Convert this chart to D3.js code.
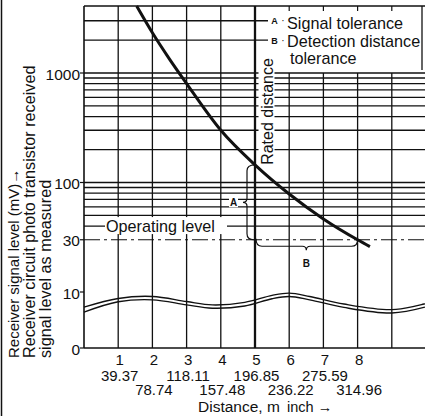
<!DOCTYPE html>
<html><head><meta charset="utf-8">
<script src="https://cdn.jsdelivr.net/npm/d3@7"></script>
<style>
body{margin:0;background:#fff}
svg{display:block}
text{font-family:"Liberation Sans",Arial,Helvetica,sans-serif;fill:#111}
</style>
</head><body>
<svg id="chart" width="425" height="416"></svg>
<script>
// ---------- data ----------
const meterTicks = [1, 2, 3, 4, 5, 6, 7, 8];
const inchMetersOdd = [1, 3, 5, 7];
const inchLabelsOdd = ["39.37", "118.11", "196.85", "275.59"];
const inchMetersEven = [2, 4, 6, 8];
const inchLabelsEven = ["78.74", "157.48", "236.22", "314.96"];
const yTickValues = [0, 10, 30, 100, 1000];
const logGridValues = [40, 50, 60, 70, 80, 90, 100, 200, 300, 400, 500, 600, 700, 800, 900, 1000];
const leaderGridValues = [3000, 2000];
const fullVerticals = [1, 2, 3, 4];
const partialVerticals = [6, 7, 8, 9];
const ratedDistance = 5;
const operatingLevel = 30;
const detectionLimit = 8;

const curveDistance = [1.54, 2.0, 2.5, 3.0, 4.0, 5.0, 6.0, 7.0, 8.0, 8.36];
const curveSignal   = [4090, 2330, 1340, 800, 300, 145, 78.5, 46.5, 30, 26];

const waveDistance = [0, 1, 2, 3, 3.75, 4.7, 5.5, 6, 6.6, 7.6, 9, 9.97];
const waveUpper    = [7.3, 8.85, 9.2, 8.3, 7.7, 8.15, 9.4, 9.8, 9.2, 7.85, 6.85, 7.9];
const waveLower    = [6.4, 8.25, 8.6, 7.7, 7.1, 7.5, 8.8, 9.2, 8.6, 7.25, 6.25, 7.3];

const legendKeys = ["A", "B"];
const legendLabels = ["Signal tolerance", "Detection distance"];
const legendLabel2 = "tolerance";
const yTitleLines = ["Receiver signal level (mV)\u2192",
                     "Receiver circuit photo transistor received",
                     "signal level as measured"];

// ---------- layout ----------
const W = 425, H = 416;
const plot = {left: 84, top: 6, right: 425, bottom: 348};
const svg = d3.select("#chart");

const x = d3.scaleLinear().domain([0, 10]).range([plot.left, 426]);
const yLog = d3.scaleLog().domain([10, 1000]).range([292, 73]);
const yLin = d3.scaleLinear().domain([0, 10]).range([plot.bottom, 292]);
const y = v => v >= 10 ? yLog(v) : yLin(v);

const ink = "#111";
const g = svg.append("g");

// left frame line of the figure
g.append("line").attr("x1", 1.5).attr("x2", 1.5).attr("y1", 0).attr("y2", H)
  .attr("stroke", ink).attr("stroke-width", 1.5);

// horizontal grid (log part)
g.selectAll(".hg").data(logGridValues).join("line")
  .attr("x1", plot.left).attr("x2", plot.right)
  .attr("y1", d => y(d)).attr("y2", d => y(d))
  .attr("stroke", ink).attr("stroke-width", 1.3);

// leader grid lines above 1000 (end at legend letters)
g.selectAll(".lg").data(leaderGridValues).join("line")
  .attr("x1", plot.left).attr("x2", 268)
  .attr("y1", d => y(d)).attr("y2", d => y(d))
  .attr("stroke", ink).attr("stroke-width", 1.3);

// vertical grid
g.selectAll(".vf").data(fullVerticals).join("line")
  .attr("x1", d => x(d)).attr("x2", d => x(d))
  .attr("y1", plot.top).attr("y2", plot.bottom)
  .attr("stroke", ink).attr("stroke-width", 1.3);
g.selectAll(".vp").data(partialVerticals).join("line")
  .attr("x1", d => x(d)).attr("x2", d => x(d))
  .attr("y1", y(1000)).attr("y2", plot.bottom)
  .attr("stroke", ink).attr("stroke-width", 1.3);
g.selectAll(".vt").data(partialVerticals).join("line")
  .attr("x1", d => x(d)).attr("x2", d => x(d))
  .attr("y1", plot.top).attr("y2", plot.top + 5)
  .attr("stroke", ink).attr("stroke-width", 1.2);

// frame
g.append("line").attr("x1", plot.left).attr("x2", plot.right).attr("y1", plot.top).attr("y2", plot.top)
  .attr("stroke", ink).attr("stroke-width", 1.5);
g.append("line").attr("x1", plot.left).attr("x2", plot.right).attr("y1", plot.bottom).attr("y2", plot.bottom)
  .attr("stroke", ink).attr("stroke-width", 1.6);
g.append("line").attr("x1", plot.left).attr("x2", plot.left).attr("y1", plot.top).attr("y2", plot.bottom)
  .attr("stroke", ink).attr("stroke-width", 1.6);
g.append("line").attr("x1", 422).attr("x2", 422).attr("y1", plot.top).attr("y2", y(1000) - 3)
  .attr("stroke", ink).attr("stroke-width", 1.3);

// rated distance thick line
g.append("line").attr("x1", x(ratedDistance)).attr("x2", x(ratedDistance))
  .attr("y1", plot.top).attr("y2", plot.bottom)
  .attr("stroke", ink).attr("stroke-width", 2.3);

// operating level dash-dot line
g.append("line").attr("x1", plot.left).attr("x2", plot.right)
  .attr("y1", y(operatingLevel)).attr("y2", y(operatingLevel))
  .attr("stroke", ink).attr("stroke-width", 1.2).attr("stroke-dasharray", "16,4,3,4");

// wavy band (lower curve)
const waveLine = d3.line().curve(d3.curveCatmullRom.alpha(0.5));
[waveUpper, waveLower].forEach(arr => {
  g.append("path")
    .attr("d", waveLine(waveDistance.map((d, i) => [x(d), y(arr[i])])))
    .attr("fill", "none").attr("stroke", ink).attr("stroke-width", 1.4);
});

// main curve
const mainLine = d3.line().curve(d3.curveMonotoneX);
g.append("path")
  .attr("d", mainLine(curveDistance.map((d, i) => [x(d), y(curveSignal[i])])))
  .attr("fill", "none").attr("stroke", ink).attr("stroke-width", 3).attr("stroke-linecap", "butt");

// ---------- labels with white backgrounds ----------
// Operating level
const opY = y(40);
g.append("rect").attr("x", 105).attr("y", opY - 9).attr("width", 122).attr("height", 17).attr("fill", "#fff");
g.append("text").attr("x", 106).attr("y", opY + 5.8).attr("font-size", 16.2).text("Operating level");

// Rated distance (rotated)
const rdX = x(ratedDistance) + 17.5, rdY = y(curveSignal[curveDistance.indexOf(ratedDistance)]);
g.append("rect").attr("x", rdX - 14).attr("y", rdY - 109).attr("width", 16).attr("height", 109).attr("fill", "#fff");
g.append("text").attr("transform", `translate(${rdX},${rdY}) rotate(-90)`)
  .attr("font-size", 16).text("Rated distance");

// Legend
leaderGridValues.forEach((v, i) => {
  const ly = y(v);
  g.append("text").attr("x", 274.5).attr("y", ly + 3.5).attr("font-size", 9).attr("font-weight", "bold")
    .attr("text-anchor", "middle").text(legendKeys[i]);
  g.append("text").attr("x", 283).attr("y", ly + 3.5).attr("font-size", 10).attr("text-anchor", "middle").text("\u00b7");
  g.append("text").attr("x", 287).attr("y", ly + (i === 0 ? 7.8 : 6.5)).attr("font-size", 16.2).text(legendLabels[i]);
});
g.append("text").attr("x", 290).attr("y", y(2000) + 23.5).attr("font-size", 16.2).text(legendLabel2);

// ---------- braces ----------
// A : signal tolerance (vertical)
const xr = x(ratedDistance), yt = rdY, yb = y(operatingLevel);
const xb = xr - 8, tip = xb - 4, midA = (yt + yb) / 2;
g.append("path")
  .attr("d", `M${xr},${yt} Q${xb},${yt} ${xb},${yt + 6} L${xb},${midA - 4} Q${xb},${midA} ${tip},${midA} Q${xb},${midA} ${xb},${midA + 4} L${xb},${yb - 6} Q${xb},${yb} ${xr - 1},${yb}`)
  .attr("fill", "none").attr("stroke", ink).attr("stroke-width", 1.2);
g.append("rect").attr("x", 229).attr("y", midA - 5).attr("width", 9).attr("height", 10).attr("fill", "#fff");
g.append("text").attr("x", 233.5).attr("y", midA + 4).attr("font-size", 10).attr("font-weight", "bold")
  .attr("text-anchor", "middle").text(legendKeys[0]);

// B : detection distance tolerance (horizontal)
const x8 = x(detectionLimit), yh = yb + 6.5, midB = (xr + x8) / 2;
g.append("path")
  .attr("d", `M${xr + 1},${yb - 1} Q${xr + 1},${yh} ${xr + 7},${yh} L${midB - 4},${yh} Q${midB},${yh} ${midB},${yh + 4} Q${midB},${yh} ${midB + 4},${yh} L${x8 - 6},${yh} Q${x8},${yh} ${x8},${yb}`)
  .attr("fill", "none").attr("stroke", ink).attr("stroke-width", 1.2);
g.append("text").attr("x", midB).attr("y", yh + 20.5).attr("font-size", 10).attr("font-weight", "bold")
  .attr("text-anchor", "middle").text(legendKeys[1]);

// ---------- axes labels ----------
g.selectAll(".yt").data(yTickValues).join("text")
  .attr("x", 80).attr("y", d => y(d) + 6.5)
  .attr("text-anchor", "end").attr("font-size", 15.5).text(d => d);
g.selectAll(".ytk").data(yTickValues).join("line")
  .attr("x1", 80).attr("x2", plot.left).attr("y1", d => y(d)).attr("y2", d => y(d))
  .attr("stroke", ink).attr("stroke-width", 1.2);

g.selectAll(".xm").data(meterTicks).join("text")
  .attr("x", d => x(d) + 1.5).attr("y", 364.5)
  .attr("text-anchor", "middle").attr("font-size", 15).text(d => d);
g.selectAll(".xi1").data(inchMetersOdd).join("text")
  .attr("x", d => x(d) + 1.5).attr("y", 381)
  .attr("text-anchor", "middle").attr("font-size", 15).text((d, i) => inchLabelsOdd[i]);
g.selectAll(".xi2").data(inchMetersEven).join("text")
  .attr("x", d => x(d) + 1.5).attr("y", 395)
  .attr("text-anchor", "middle").attr("font-size", 15).text((d, i) => inchLabelsEven[i]);
g.append("text").attr("x", 198).attr("y", 411.5).attr("font-size", 15.5).text("Distance, m");
g.append("text").attr("x", 287).attr("y", 411.5).attr("font-size", 14.5).attr("fill", "#333").text("inch \u2192");

// y title
const titleX = [18.5, 34.5, 50.5];
const titleSize = [15, 16.2, 16.2];
yTitleLines.forEach((t, i) => {
  g.append("text").attr("transform", `translate(${titleX[i]},358) rotate(-90)`)
    .attr("font-size", titleSize[i]).text(t);
});
</script>
</body></html>
